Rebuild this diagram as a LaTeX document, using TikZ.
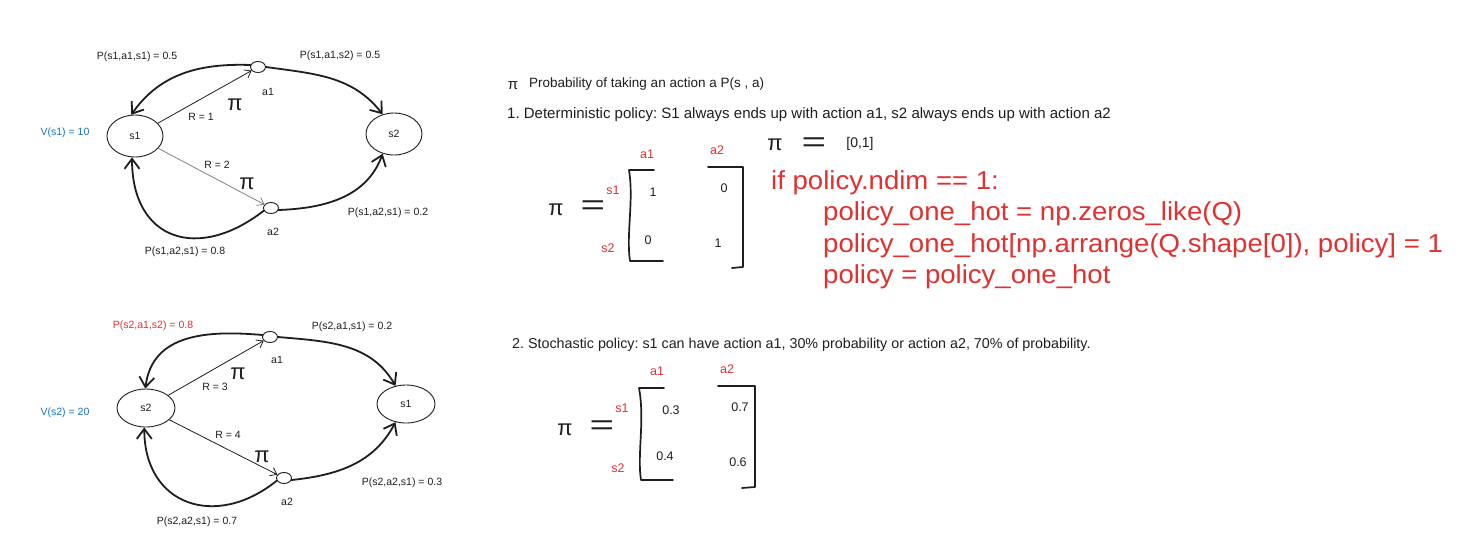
\documentclass[tikz,border=0pt]{standalone}
\usepackage{fontspec}
\usepackage{graphicx}
\setmainfont{Liberation Sans}
\newfontfamily\codefont[FakeStretch=1.06]{Liberation Sans}
\usetikzlibrary{arrows.meta, shapes.geometric}
\frenchspacing

\definecolor{ink}{HTML}{1E1E1E}
\definecolor{hotred}{HTML}{E03131}
\definecolor{valblue}{HTML}{1971C2}

\begin{document}
\begin{tikzpicture}[
  x = 1pt, y = -1pt,
  every node/.style = {text=ink, inner sep=0pt},
  lbl/.style   = {font=\fontsize{10.5}{12}\selectfont},
  vlbl/.style  = {lbl, text=valblue},
  state/.style = {ellipse, draw=ink, line width=0.9pt, lbl,
                  minimum width=56pt, minimum height=42pt},
  act/.style   = {ellipse, draw=ink, line width=0.9pt,
                  minimum width=15pt, minimum height=11pt},
  pisym/.style = {font=\fontsize{22}{22}\selectfont},
  eqsym/.style = {font=\fontsize{28}{28}\selectfont},
  txt/.style   = {font=\fontsize{15}{18}\selectfont, anchor=west},
  ent/.style   = {font=\fontsize{12.5}{14}\selectfont},
  idx/.style   = {font=\fontsize{12.5}{14}\selectfont, text=hotred},
  code/.style  = {font=\codefont\fontsize{26}{30}\selectfont, text=hotred,
                  anchor=base west},
  tarr/.style  = {-{Straight Barb[length=6pt, width=9pt]}, line width=0.8pt,
                  draw=ink, line cap=round},
  barr/.style  = {-{Straight Barb[length=10pt, width=15pt]}, line width=1.8pt,
                  draw=ink, line cap=round},
  brk/.style   = {line width=1.7pt, draw=ink, line cap=round, line join=round}
]
\fill[white] (0,0) rectangle (1478,539);
\useasboundingbox (0,0) rectangle (1478,539);

% ---- MDP starting from s1 (top) ----------------------------------------
\node[state, at={(135,136)}] (s1) {s1};
\node[state, at={(394,134)}] (s2) {s2};
\node[act,   at={(258,67)}]  (a1) {};
\node[act,   at={(271,208)}] (a2) {};

\draw[tarr] (s1) -- (a1);
\draw[tarr, draw=ink!55] (s1) -- (a2);
\draw[barr] (a1.165) to[out=178, in=55] (s1.100);
\draw[barr] (a1.east) to[out=-8, in=128] (s2.120);
\draw[barr] (a2.200) to[out=218, in=270, looseness=1.5] (s1.262);
\draw[barr] (a2.-15) to[out=2, in=250] (s2.240);

\node[vlbl, at={(65,133)}]  (v1)   {V(s1) = 10};
\node[lbl,  at={(137,57)}]  (p111) {P(s1,a1,s1) = 0.5};
\node[lbl,  at={(340,56)}]  (p112) {P(s1,a1,s2) = 0.5};
\node[lbl,  at={(388,213)}] (p121) {P(s1,a2,s1) = 0.2};
\node[lbl,  at={(185,252)}] (p122) {P(s1,a2,s1) = 0.8};
\node[lbl,  at={(201,117)}] (r1)   {R = 1};
\node[lbl,  at={(217,165)}] (r2)   {R = 2};
\node[lbl,  at={(268,92)}]  (la1)  {a1};
\node[lbl,  at={(273,232)}] (la2)  {a2};
\node[pisym, at={(235,105)}] (pi1) {π};
\node[pisym, at={(247,184)}] (pi2) {π};

% ---- MDP starting from s2 (bottom) -------------------------------------
\node[state, minimum width=58pt, minimum height=38pt, at={(146,408)}] (t2) {s2};
\node[state, minimum width=58pt, minimum height=38pt, at={(406,404)}] (t1) {s1};
\node[act, at={(270,337)}] (b1) {};
\node[act, at={(284,478)}] (b2) {};

\draw[tarr] (t2) -- (b1);
\draw[tarr] (t2) -- (b2);
\draw[barr] (b1.165) to[out=175, in=83, looseness=1.1] (t2.92);
\draw[barr] (b1.east) to[out=-5, in=120] (t1.120);
\draw[barr] (b2.200) to[out=219, in=270, looseness=1.4] (t2.265);
\draw[barr] (b2.-15) to[out=6, in=242] (t1.240);

\node[vlbl, at={(65,413)}]  (v2)   {V(s2) = 20};
\node[lbl, text=hotred, at={(153,326)}] (p212) {P(s2,a1,s2) = 0.8};
\node[lbl,  at={(352,327)}] (p211) {P(s2,a1,s1) = 0.2};
\node[lbl,  at={(402,483)}] (p221) {P(s2,a2,s1) = 0.3};
\node[lbl,  at={(197,522)}] (p222) {P(s2,a2,s1) = 0.7};
\node[lbl,  at={(215,387)}] (r3)   {R = 3};
\node[lbl,  at={(228,435)}] (r4)   {R = 4};
\node[lbl,  at={(277,360)}] (lb1)  {a1};
\node[lbl,  at={(287,502)}] (lb2)  {a2};
\node[pisym, at={(238,374)}] (pi3) {π};
\node[pisym, at={(262,457)}] (pi4) {π};

% ---- notes on the right -------------------------------------------------
\node[pisym, font=\fontsize{15}{15}\selectfont, at={(513,86)}] (pihd) {π};
\node[txt, font=\fontsize{13.5}{16}\selectfont, at={(529,84)}] (head)
  {Probability of taking an action a P(s , a)};
\node[txt, at={(507,115)}] (det)
  {1. Deterministic policy: S1 always ends up with action a1, s2 always ends up with action a2};

% deterministic matrix
\node[pisym, at={(556,210)}] (pim1) {π};
\node[eqsym, at={(593,208)}] (eqm1) {\scalebox{1.5}[1]{=}};
\node[idx, at={(647,154)}] (m1c1) {a1};
\node[idx, at={(717,150)}] (m1c2) {a2};
\node[idx, at={(613,190)}] (m1r1) {s1};
\node[idx, at={(608,248)}] (m1r2) {s2};
\node[ent, at={(653,192)}] (m111) {1};
\node[ent, at={(724,188)}] (m112) {0};
\node[ent, at={(648,240)}] (m121) {0};
\node[ent, at={(718,243)}] (m122) {1};
\draw[brk] (654,170) -- (629,170) .. controls (634,200) and (626,235) .. (630,261) -- (663,261);
\draw[brk] (708,167) -- (743,167) -- (743,267) -- (732,268);

\node[pisym, at={(775,145)}] (pivec) {π};
\node[eqsym, at={(814,145)}] (eqvec) {\scalebox{1.5}[1]{=}};
\node[ent, font=\fontsize{14}{16}\selectfont, at={(860,144)}] (vec) {[0,1]};

% conversion to one-hot
\node[code, at={(771,189)}] (c1) {if policy.ndim == 1:};
\node[code, at={(823,220)}] (c2) {policy\_one\_hot = np.zeros\_like(Q)};
\node[code, at={(823,252)}] (c3) {policy\_one\_hot[np.arrange(Q.shape[0]), policy] = 1};
\node[code, at={(823,283)}] (c4) {policy = policy\_one\_hot};

% stochastic matrix
\node[txt, font=\fontsize{14.3}{17}\selectfont, at={(512,345)}] (sto)
  {2. Stochastic policy: s1 can have action a1, 30\% probability or action a2, 70\% of probability.};
\node[pisym, at={(565,430)}] (pim2) {π};
\node[eqsym, at={(602,428)}] (eqm2) {\scalebox{1.5}[1]{=}};
\node[idx, at={(657,371)}] (m2c1) {a1};
\node[idx, at={(727,369)}] (m2c2) {a2};
\node[idx, at={(622,408)}] (m2r1) {s1};
\node[idx, at={(618,468)}] (m2r2) {s2};
\node[ent, at={(671,410)}] (m211) {0.3};
\node[ent, at={(740,407)}] (m212) {0.7};
\node[ent, at={(665,456)}] (m221) {0.4};
\node[ent, at={(738,462)}] (m222) {0.6};
\draw[brk] (664,388) -- (639,388) .. controls (645,420) and (637,455) .. (641,480) -- (673,480);
\draw[brk] (718,386) -- (755,386) -- (755,487) -- (742,488);

\end{tikzpicture}
\end{document}
